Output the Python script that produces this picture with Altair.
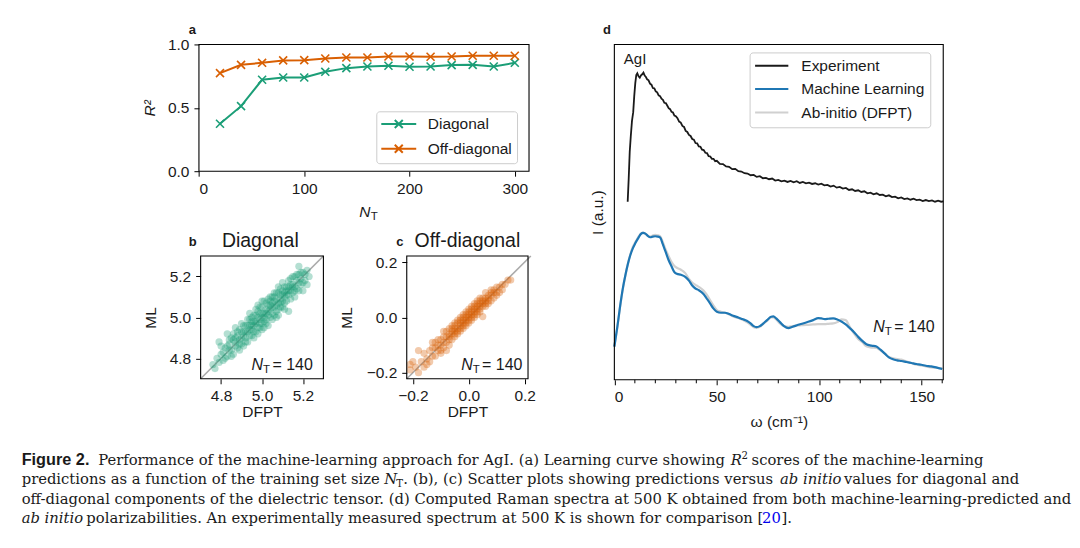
import altair as alt
import pandas as pd

SANS = "Liberation Sans"
SERIF = "DejaVu Serif"
TXT = "#1a1a1a"

# ---------------- data: panel a (learning curve) ----------------
NT = [20, 40, 60, 80, 100, 120, 140, 160, 180, 200, 220, 240, 260, 280, 300]
r2_diag = [0.374, 0.513, 0.721, 0.739, 0.739, 0.784, 0.813, 0.826, 0.832, 0.824, 0.826, 0.837, 0.839, 0.826, 0.855]
r2_off = [0.774, 0.839, 0.855, 0.874, 0.876, 0.889, 0.897, 0.897, 0.905, 0.905, 0.903, 0.905, 0.911, 0.911, 0.911]
components = ["Diagonal", "Off-diagonal"]

# ---------------- data: panel b (diagonal scatter) ----------------
b_dfpt = [4.77, 4.78, 4.76, 4.79, 4.80, 4.81, 4.82, 4.83, 4.83, 4.84, 4.85, 4.85, 4.86, 4.86, 4.87, 4.87, 4.88, 4.88,
          4.89, 4.89, 4.90, 4.90, 4.91, 4.91, 4.92, 4.92, 4.93, 4.93, 4.93, 4.94, 4.94, 4.95, 4.95, 4.95, 4.96, 4.96,
          4.96, 4.97, 4.97, 4.97, 4.98, 4.98, 4.98, 4.99, 4.99, 5.00, 5.00, 5.00, 5.01, 5.01, 5.01, 5.02, 5.02, 5.03,
          5.03, 5.03, 5.04, 5.04, 5.05, 5.05, 5.05, 5.06, 5.06, 5.07, 5.07, 5.08, 5.08, 5.08, 5.09, 5.09, 5.10, 5.10,
          5.10, 5.11, 5.11, 5.12, 5.12, 5.13, 5.13, 5.13, 5.14, 5.14, 5.15, 5.15, 5.16, 5.16, 5.17, 5.17, 5.18, 5.18,
          5.19, 5.19, 5.20, 5.20, 5.21, 5.22, 5.22, 5.23, 4.95, 4.99, 5.02, 5.04, 5.06, 4.94, 5.07, 4.97, 5.00, 5.09,
          5.11, 4.91, 4.89, 5.13, 5.03, 4.92, 4.96, 5.01, 5.05, 4.87, 4.84, 5.15]
b_ml = [4.75, 4.80, 4.77, 4.88, 4.82, 4.79, 4.85, 4.92, 4.81, 4.87, 4.84, 4.90, 4.82, 4.92, 4.88, 4.95, 4.85, 4.91,
        4.94, 4.87, 4.90, 4.97, 4.86, 4.93, 4.96, 4.90, 4.99, 4.93, 4.88, 4.96, 5.02, 4.91, 4.98, 4.94, 5.01, 4.96,
        4.90, 5.04, 4.98, 4.93, 5.00, 5.06, 4.95, 5.02, 4.97, 5.00, 5.05, 4.94, 5.02, 4.98, 5.08, 5.04, 4.99, 5.06,
        5.01, 4.96, 5.10, 5.04, 5.02, 5.07, 4.99, 5.12, 5.05, 5.09, 5.03, 5.15, 5.07, 5.01, 5.11, 5.05, 5.13, 5.08,
        5.17, 5.10, 5.04, 5.15, 5.11, 5.03, 5.18, 5.13, 5.09, 5.16, 5.12, 5.20, 5.15, 5.10, 5.18, 5.14, 5.25, 5.21,
        5.16, 5.19, 5.22, 5.13, 5.18, 5.23, 5.16, 5.20, 4.96, 4.99, 5.02, 5.06, 5.08, 4.94, 5.06, 4.97, 5.02, 5.09,
        5.12, 4.91, 4.89, 5.15, 5.03, 4.93, 4.98, 5.00, 5.05, 4.86, 4.84, 5.16]
b_dfpt_more = [4.80, 4.82, 4.84, 4.85, 4.86, 4.88, 4.89, 4.90, 4.91, 4.92, 4.93, 4.94, 4.94, 4.95, 4.96, 4.97, 4.98,
               4.98, 4.99, 4.99, 5.00, 5.00, 5.01, 5.02, 5.02, 5.03, 5.04, 5.04, 5.05, 5.06, 5.06, 5.07, 5.07, 5.08,
               5.08, 5.09, 5.09, 5.10, 5.10, 5.11, 5.11, 5.12, 5.12, 5.13, 5.14, 5.14, 5.15, 5.16, 5.16, 5.17, 5.18,
               5.18, 5.19, 5.20, 5.21, 4.81, 4.79, 4.83, 4.87, 4.90]
b_ml_more = [4.86, 4.80, 4.89, 4.81, 4.89, 4.93, 4.84, 4.93, 4.96, 4.88, 4.96, 4.91, 4.99, 5.00, 4.93, 5.01, 4.92,
             5.03, 4.95, 5.05, 4.97, 5.08, 4.95, 5.07, 4.97, 5.09, 5.00, 5.08, 5.10, 5.01, 5.10, 5.12, 5.00, 5.04,
             5.12, 5.14, 5.07, 5.05, 5.11, 5.15, 5.07, 5.13, 5.08, 5.11, 5.19, 5.13, 5.15, 5.20, 5.13, 5.21, 5.17,
             5.13, 5.22, 5.17, 5.21, 4.83, 4.78, 4.86, 4.90, 4.87]

# ---------------- data: panel c (off-diagonal scatter) ----------------
c_dfpt = [-0.21, -0.21, -0.19, -0.18, -0.18, -0.16, -0.15, -0.14, -0.14, -0.13, -0.12, -0.12, -0.11, -0.11, -0.10,
          -0.10, -0.09, -0.09, -0.08, -0.08, -0.08, -0.07, -0.07, -0.07, -0.06, -0.06, -0.06, -0.05, -0.05, -0.05,
          -0.04, -0.04, -0.04, -0.03, -0.03, -0.03, -0.02, -0.02, -0.02, -0.01, -0.01, -0.01, 0.00, 0.00, 0.00,
          0.01, 0.01, 0.01, 0.02, 0.02, 0.02, 0.03, 0.03, 0.03, 0.04, 0.04, 0.04, 0.05, 0.05, 0.05, 0.06, 0.06,
          0.06, 0.07, 0.07, 0.08, 0.08, 0.08, 0.09, 0.10, 0.10, 0.11, 0.12, 0.12, 0.14, 0.15, -0.03, 0.00, 0.02,
          -0.05, 0.04, -0.01, 0.01, -0.06, 0.03, -0.02]
c_ml = [-0.17, -0.19, -0.18, -0.20, -0.12, -0.18, -0.15, -0.12, -0.16, -0.11, -0.14, -0.09, -0.12, -0.08, -0.13,
        -0.10, -0.07, -0.11, -0.09, -0.05, -0.12, -0.07, -0.04, -0.10, -0.06, -0.08, -0.03, -0.05, -0.07, -0.02,
        -0.04, -0.06, -0.01, -0.03, -0.05, 0.00, -0.02, 0.01, -0.04, -0.01, 0.02, -0.03, 0.00, 0.03, -0.02,
        0.01, 0.04, -0.01, 0.02, 0.05, 0.00, 0.03, 0.06, 0.01, 0.04, 0.07, 0.02, 0.05, 0.003, 0.07, 0.06, 0.04,
        0.09, 0.07, 0.05, 0.08, 0.10, 0.06, 0.09, 0.11, 0.08, 0.09, 0.10, 0.12, 0.135, 0.135, -0.02, 0.01, 0.03,
        -0.04, 0.05, 0.00, 0.02, -0.05, 0.04, -0.01]
c_dfpt_more = [-0.20, -0.17, -0.16, -0.15, -0.13, -0.13, -0.12, -0.11, -0.10, -0.10, -0.09, -0.09, -0.08, -0.07,
               -0.07, -0.06, -0.05, -0.05, -0.04, -0.04, -0.03, -0.03, -0.02, -0.02, -0.01, -0.01, 0.00, 0.00, 0.01,
               0.01, 0.02, 0.02, 0.03, 0.03, 0.04, 0.04, 0.05, 0.05, 0.06, 0.06, 0.07, 0.07, 0.08, 0.09, 0.09, 0.10,
               0.11, 0.13]
c_ml_more = [-0.16, -0.16, -0.13, -0.17, -0.14, -0.09, -0.11, -0.10, -0.08, -0.12, -0.09, -0.05, -0.07, -0.06,
             -0.08, -0.04, -0.06, -0.03, -0.02, -0.05, -0.01, -0.04, 0.00, -0.03, 0.01, -0.02, 0.02, -0.01, 0.03,
             0.00, 0.04, 0.01, 0.05, 0.02, 0.06, 0.03, 0.06, 0.04, 0.07, 0.05, 0.08, 0.06, 0.09, 0.07, 0.10, 0.09,
             0.11, 0.12]

# ---------------- data: panel d (Raman spectra) ----------------
exp_w = [6.5, 7.0, 7.5, 8.0, 8.6, 9.2, 9.7, 10.2, 10.7, 11.2, 11.8, 12.4, 13.0, 13.6, 14.2, 14.8, 15.4, 16.0, 16.7,
         17.4, 18.1, 18.8, 19.5, 20.2, 20.9, 21.6, 22.3, 23.0, 23.7, 24.4, 25.1, 25.8, 26.5, 27.2, 27.9, 28.6, 29.3,
         30.0, 30.8, 31.6, 32.4, 33.2, 34.0, 34.8, 35.6, 36.4, 37.2, 38.0, 38.8, 39.6, 40.4, 41.2, 42.0, 42.8, 43.6,
         44.4, 45.2, 46.0, 46.8, 47.6, 48.4, 49.2, 50.0, 51.5, 53.0, 54.5, 56.0, 57.5, 59.0, 60.5, 62.0, 63.5, 65.0,
         66.5, 68.0, 69.5, 71.0, 72.5, 74.0, 75.5, 77.0, 78.5, 80.0, 81.5, 83.0, 84.5, 86.0, 87.5, 89.0, 90.5, 92.0,
         93.5, 95.0, 96.5, 98.0, 99.5, 101.0, 102.5, 104.0, 105.5, 107.0, 108.5, 110.0, 111.5, 113.0, 114.5, 116.0,
         117.5, 119.0, 120.5, 122.0, 123.5, 125.0, 126.5, 128.0, 129.5, 131.0, 132.5, 134.0, 135.5, 137.0, 138.5,
         140.0, 141.5, 143.0, 144.5, 146.0, 147.5, 149.0, 150.5, 152.0, 153.5, 155.0, 156.5, 158.0, 159.5, 160.5]
exp_I = [0.531, 0.600, 0.680, 0.725, 0.772, 0.798, 0.846, 0.884, 0.909, 0.914, 0.905, 0.901, 0.908, 0.911, 0.916,
         0.907, 0.903, 0.896, 0.893, 0.883, 0.880, 0.870, 0.869, 0.860, 0.857, 0.848, 0.846, 0.838, 0.835, 0.826,
         0.825, 0.818, 0.810, 0.807, 0.799, 0.797, 0.788, 0.786, 0.780, 0.770, 0.767, 0.757, 0.754, 0.742, 0.739,
         0.730, 0.727, 0.718, 0.716, 0.706, 0.705, 0.696, 0.695, 0.686, 0.685, 0.677, 0.676, 0.667, 0.666, 0.659,
         0.659, 0.652, 0.653, 0.644, 0.643, 0.636, 0.635, 0.628, 0.629, 0.622, 0.621, 0.616, 0.615, 0.610, 0.611,
         0.605, 0.607, 0.601, 0.602, 0.598, 0.600, 0.594, 0.596, 0.592, 0.594, 0.590, 0.593, 0.589, 0.592, 0.587,
         0.590, 0.586, 0.588, 0.584, 0.586, 0.582, 0.585, 0.580, 0.581, 0.576, 0.579, 0.573, 0.575, 0.570, 0.572,
         0.566, 0.568, 0.563, 0.565, 0.560, 0.562, 0.556, 0.558, 0.553, 0.556, 0.551, 0.552, 0.547, 0.550, 0.545,
         0.546, 0.541, 0.544, 0.539, 0.541, 0.537, 0.540, 0.536, 0.537, 0.533, 0.536, 0.533, 0.535, 0.531, 0.534,
         0.531, 0.532]

sim_w = [0, 1.5, 3, 4.2, 5.4, 6.6, 7.8, 9, 10.2, 11.8, 13, 14, 15.1, 16.3, 17.5, 18.7, 19.9, 21.2, 22.4, 23.6, 24.8,
         26.4, 28.0, 29.2, 30.5, 32.5, 34.6, 36.5, 38, 39.4, 41, 43.5, 45, 46.7, 48.3, 50, 52, 54, 56, 58, 60.5, 62.5,
         64.6, 66.5, 68, 69.4, 71, 72.5, 74.5, 76.5, 77.6, 79, 80.8, 82.8, 84.9, 87, 89.7, 92, 94.6, 97, 99.5, 101,
         102.7, 104.5, 106.8, 108.8, 110.8, 112.9, 114.9, 117, 119, 121, 123, 125.5, 127.9, 130, 132, 134, 136, 138,
         140.1, 142.5, 145, 147.5, 149.8, 152, 154.6, 157, 160]
ml_I = [0.099, 0.160, 0.228, 0.275, 0.3125, 0.345, 0.372, 0.392, 0.407, 0.424, 0.435, 0.438, 0.436, 0.429, 0.425,
        0.427, 0.428, 0.427, 0.424, 0.405, 0.385, 0.358, 0.337, 0.322, 0.316, 0.313, 0.307, 0.295, 0.281, 0.273,
        0.268, 0.256, 0.243, 0.228, 0.213, 0.203, 0.200, 0.200, 0.196, 0.191, 0.186, 0.181, 0.176, 0.168, 0.160,
        0.157, 0.160, 0.167, 0.178, 0.188, 0.189, 0.183, 0.172, 0.160, 0.154, 0.158, 0.164, 0.168, 0.173, 0.178,
        0.184, 0.183, 0.181, 0.182, 0.183, 0.180, 0.174, 0.165, 0.154, 0.142, 0.128, 0.116, 0.106, 0.102, 0.099,
        0.089, 0.078, 0.067, 0.061, 0.058, 0.056, 0.053, 0.050, 0.047, 0.045, 0.042, 0.040, 0.037, 0.032]
dfpt_I = [0.099, 0.158, 0.226, 0.273, 0.312, 0.346, 0.374, 0.396, 0.410, 0.427, 0.436, 0.439, 0.436, 0.430, 0.427,
          0.430, 0.432, 0.431, 0.428, 0.412, 0.392, 0.370, 0.350, 0.340, 0.334, 0.328, 0.318, 0.300, 0.290, 0.284,
          0.278, 0.266, 0.255, 0.238, 0.222, 0.208, 0.203, 0.200, 0.195, 0.189, 0.184, 0.179, 0.172, 0.164, 0.157,
          0.155, 0.158, 0.166, 0.176, 0.186, 0.186, 0.180, 0.168, 0.160, 0.158, 0.160, 0.162, 0.163, 0.164, 0.165,
          0.166, 0.166, 0.166, 0.167, 0.168, 0.172, 0.180, 0.178, 0.158, 0.138, 0.122, 0.112, 0.100, 0.096, 0.095,
          0.087, 0.078, 0.068, 0.064, 0.062, 0.060, 0.055, 0.050, 0.045, 0.043, 0.040, 0.037, 0.036, 0.034]
minor_w = [10, 20, 30, 40, 60, 70, 80, 90, 110, 120, 130, 140, 160]
series_d = ["Experiment", "Machine Learning", "Ab-initio (DFPT)"]

# ---------------- caption text ----------------
cap1 = ["Figure 2.", "Performance of the machine-learning approach for AgI. (a) Learning curve showing", "R", "2",
        "scores of the machine-learning"]
cap2 = ["predictions as a function of the training set size", "N", "T",
        ". (b), (c) Scatter plots showing predictions versus", "ab initio", "values for diagonal and"]
cap3 = ["off-diagonal components of the dielectric tensor. (d) Computed Raman spectra at 500 K obtained from both "
        "machine-learning-predicted and"]
cap4 = ["ab initio", "polarizabilities. An experimentally measured spectrum at 500 K is shown for comparison [", "20",
        "]."]

ONE = pd.DataFrame({"k": [0]})


def txt(s, x, y, size=15.5, font=SANS, style="normal", weight="normal", color=TXT, align="left",
        baseline="alphabetic"):
    return alt.Chart(ONE).mark_text(text=s, font=font, fontSize=size, fontStyle=style, fontWeight=weight,
                                    color=color, align=align, baseline=baseline).encode(
        x=alt.value(x), y=alt.value(y))


def frame(xd, yd, xs, ys, ax, ay):
    df = pd.DataFrame({"x0": [xd[0]], "x1": [xd[1]], "y0": [yd[0]], "y1": [yd[1]]})
    return alt.Chart(df).mark_rect(fill="white", fillOpacity=0, stroke="black", strokeWidth=1.1).encode(
        x=alt.X("x0:Q", scale=xs, axis=ax), x2="x1:Q",
        y=alt.Y("y0:Q", scale=ys, axis=ay), y2="y1:Q")


# ================= panel a =================
xa_dom, ya_dom = [0, 313.5], [0, 1]
xa = alt.Scale(domain=xa_dom, range=[191.3, 522], nice=False, zero=False)
ya = alt.Scale(domain=ya_dom, range=[163, 36], nice=False, zero=False)
ax_a = alt.Axis(orient="bottom", offset=-369, values=[0, 100, 200, 300], format="d", title=None)
ay_a = alt.Axis(orient="left", offset=-191.3, values=[0, 0.5, 1.0], format=".1f", title="R²",
                titleFontStyle="italic", titleX=-50, titleBaseline="middle", titleAngle=270)
leg_a = alt.Legend(orient="none", legendX=369, legendY=103, title=None,
                   symbolType="M-1.55,0H5.45M1.15,-0.8L2.75,0.8M1.15,0.8L2.75,-0.8",
                   symbolSize=100, symbolStrokeWidth=2, symbolOffset=0, labelOffset=31.1, padding=5,
                   strokeColor="#cccccc", fillColor="white", cornerRadius=3, labelFont=SANS, labelFontSize=15.5,
                   labelColor=TXT, rowPadding=6.8)
df_a = pd.DataFrame({"NT": NT + NT, "R2": r2_diag + r2_off,
                     "comp": [components[0]] * len(NT) + [components[1]] * len(NT)})
col_a = alt.Color("comp:N", scale=alt.Scale(domain=components, range=["#1b9e77", "#d95f02"]), legend=leg_a)
enc_a = dict(x=alt.X("NT:Q", scale=xa, axis=ax_a), y=alt.Y("R2:Q", scale=ya, axis=ay_a), color=col_a)
line_a = alt.Chart(df_a).mark_line(strokeWidth=2).encode(**enc_a)
pts_a = alt.Chart(df_a).mark_point(shape="M-1,-1L1,1M-1,1L1,-1", size=64, filled=False, strokeWidth=1.6,
                                   opacity=1).encode(**enc_a)
panel_a = alt.layer(line_a, pts_a, frame(xa_dom, ya_dom, xa, ya, ax_a, ay_a))

# ================= panel b =================
xb_dom = [4.70, 5.30]
xb = alt.Scale(domain=xb_dom, range=[193, 316], nice=False, zero=False)
yb = alt.Scale(domain=xb_dom, range=[371, 248], nice=False, zero=False)
ax_b = alt.Axis(orient="bottom", offset=-161, values=[4.8, 5.0, 5.2], format=".1f", title="DFPT",
                titleY=38, titleBaseline="alphabetic")
ay_b = alt.Axis(orient="left", offset=-193, values=[4.8, 5.0, 5.2], format=".1f", title="ML",
                titleX=-50, titleBaseline="middle", titleAngle=270)
df_b = pd.DataFrame({"dfpt": b_dfpt + b_dfpt_more, "ml": b_ml + b_ml_more})
diag_b = alt.Chart(pd.DataFrame({"dfpt": xb_dom, "ml": xb_dom})).mark_line(
    color="#aaaaaa", strokeWidth=1.6, clip=True).encode(
    x=alt.X("dfpt:Q", scale=xb, axis=ax_b), y=alt.Y("ml:Q", scale=yb, axis=ay_b))
pts_b = alt.Chart(df_b).mark_circle(size=52, opacity=0.33, color="#1b9e77").encode(
    x=alt.X("dfpt:Q", scale=xb, axis=ax_b), y=alt.Y("ml:Q", scale=yb, axis=ay_b))
panel_b = alt.layer(diag_b, pts_b, frame(xb_dom, xb_dom, xb, yb, ax_b, ay_b))

# ================= panel c =================
xc_dom = [-0.222, 0.212]
yc_dom = [-0.222, 0.222]
xc = alt.Scale(domain=xc_dom, range=[399.5, 521], nice=False, zero=False)
yc = alt.Scale(domain=yc_dom, range=[371, 248], nice=False, zero=False)
ax_c = alt.Axis(orient="bottom", offset=-161, values=[-0.2, 0.0, 0.2], format=".1f", title="DFPT",
                titleY=38, titleBaseline="alphabetic")
ay_c = alt.Axis(orient="left", offset=-399.5, values=[-0.2, 0.0, 0.2], format=".1f", title="ML",
                titleX=-60, titleBaseline="middle", titleAngle=270)
df_c = pd.DataFrame({"dfpt": c_dfpt + c_dfpt_more, "ml": c_ml + c_ml_more})
diag_c = alt.Chart(pd.DataFrame({"dfpt": yc_dom, "ml": yc_dom})).mark_line(
    color="#aaaaaa", strokeWidth=1.6, clip=True).encode(
    x=alt.X("dfpt:Q", scale=xc, axis=ax_c), y=alt.Y("ml:Q", scale=yc, axis=ay_c))
pts_c = alt.Chart(df_c).mark_circle(size=52, opacity=0.33, color="#d95f02").encode(
    x=alt.X("dfpt:Q", scale=xc, axis=ax_c), y=alt.Y("ml:Q", scale=yc, axis=ay_c))
panel_c = alt.layer(diag_c, pts_c, frame(xc_dom, yc_dom, xc, yc, ax_c, ay_c))

# ================= panel d =================
xd_dom, yd_dom = [0, 160.5], [0, 1]
xd = alt.Scale(domain=xd_dom, range=[607.5, 937], nice=False, zero=False)
yd = alt.Scale(domain=yd_dom, range=[372, 36], nice=False, zero=False)
ax_d = alt.Axis(orient="bottom", offset=-160, values=[0, 50, 100, 150], format="d", title="ω (cm⁻¹)",
                titleY=47, titleBaseline="alphabetic")
ay_d = alt.Axis(orient="left", offset=-607.5, labels=False, ticks=False, title="I (a.u.)",
                titleX=-16.5, titleBaseline="middle", titleAngle=270)
leg_d = alt.Legend(orient="none", legendX=743, legendY=44, title=None, symbolType="M-1.55,0H5.11",
                   symbolSize=100, symbolStrokeWidth=2, symbolOffset=0, labelOffset=30.8, padding=5.5,
                   strokeColor="#cccccc", fillColor="white", cornerRadius=3, labelFont=SANS, labelFontSize=15.5,
                   labelColor=TXT, rowPadding=6.5)
col_d = alt.Color("series:N", scale=alt.Scale(domain=series_d, range=["#1a1a1a", "#1f77b4", "#d0d0d0"]),
                  legend=leg_d)
df_exp = pd.DataFrame({"w": exp_w, "I": exp_I, "series": series_d[0]})
df_ml = pd.DataFrame({"w": sim_w, "I": ml_I, "series": series_d[1]})
df_dfpt = pd.DataFrame({"w": sim_w, "I": dfpt_I, "series": series_d[2]})


def enc_d():
    return dict(x=alt.X("w:Q", scale=xd, axis=ax_d), y=alt.Y("I:Q", scale=yd, axis=ay_d), color=col_d)


l_dfpt = alt.Chart(df_dfpt).mark_line(strokeWidth=2.2, interpolate="monotone").encode(**enc_d())
l_ml = alt.Chart(df_ml).mark_line(strokeWidth=2.2, interpolate="monotone").encode(**enc_d())
l_exp = alt.Chart(df_exp).mark_line(strokeWidth=1.8).encode(**enc_d())
minor_d = alt.Chart(pd.DataFrame({"w": minor_w})).mark_rule(color="black", strokeWidth=1).encode(
    x=alt.X("w:Q", scale=xd, axis=ax_d), y=alt.value(372), y2=alt.value(375.5))
panel_d = alt.layer(l_dfpt, l_ml, l_exp, minor_d, frame(xd_dom, yd_dom, xd, yd, ax_d, ay_d))

# ================= annotations =================
texts = [
    txt("a", 181, 25.5, size=13, weight="bold"),
    txt("b", 181, 238, size=13, weight="bold"),
    txt("c", 389, 238, size=13, weight="bold"),
    txt("d", 596, 25.5, size=13, weight="bold"),
    txt("Diagonal", 252.8, 238.5, size=19.5, align="center"),
    txt("Off-diagonal", 460.3, 238.5, size=19.5, align="center"),
    # N_T axis title, panel a
    txt("N", 352, 208.5, style="italic"),
    txt("T", 363.5, 212, size=11.5),
    # N_T = 140, panel b
    txt("N", 244, 362, size=16, style="italic"),
    txt("T", 255.5, 365.5, size=11.5),
    txt("= 140", 265, 362, size=16),
    # panel c
    txt("N", 454, 362, size=16, style="italic"),
    txt("T", 465.5, 365.5, size=11.5),
    txt("= 140", 475, 362, size=16),
    # panel d
    txt("AgI", 617, 55.5, size=15),
    txt("N", 867, 324, size=16, style="italic"),
    txt("T", 878.5, 327.5, size=11.5),
    txt("= 140", 888, 324, size=16),
]

CS = 14.8
caption = [
    txt(cap1[0], 13.7, 457, size=16.3, weight="bold"),
    txt(cap1[1], 90.3, 457, size=CS, font=SERIF),
    txt(cap1[2], 724, 457, size=CS, font=SERIF, style="italic"),
    txt(cap1[3], 735, 451, size=10.2, font=SERIF),
    txt(cap1[4], 745, 457, size=CS, font=SERIF),
    txt(cap2[0], 13.7, 476.5, size=CS, font=SERIF),
    txt(cap2[1], 377, 476.5, size=CS, font=SERIF, style="italic"),
    txt(cap2[2], 389, 479.5, size=10.2, font=SERIF),
    txt(cap2[3], 396, 476.5, size=CS, font=SERIF),
    txt(cap2[4], 773.5, 476.5, size=CS, font=SERIF, style="italic"),
    txt(cap2[5], 837.5, 476.5, size=CS, font=SERIF),
    txt(cap3[0], 13.7, 496, size=CS, font=SERIF),
    txt(cap4[0], 13.7, 515.5, size=CS, font=SERIF, style="italic"),
    txt(cap4[1], 78.5, 515.5, size=CS, font=SERIF),
    txt(cap4[2], 755.5, 515.5, size=CS, font=SERIF, color="#0000ee"),
    txt(cap4[3], 775, 515.5, size=CS, font=SERIF),
]

chart = alt.layer(panel_a, panel_b, panel_c, panel_d, *texts, *caption).resolve_scale(
    x="independent", y="independent", color="independent"
).resolve_axis(x="independent", y="independent").resolve_legend(color="independent").properties(
    width=1064, height=532, padding=0
).configure_view(stroke=None).configure_axis(
    labelFont=SANS, labelFontSize=15.5, labelColor=TXT, titleFont=SANS, titleFontSize=15.5,
    titleFontWeight="normal", titleColor=TXT, tickColor="black", tickWidth=1, tickSize=5, labelPadding=5,
    domain=False, grid=False
)

chart.save("out.html", embed_options={"renderer": "svg", "actions": False})
